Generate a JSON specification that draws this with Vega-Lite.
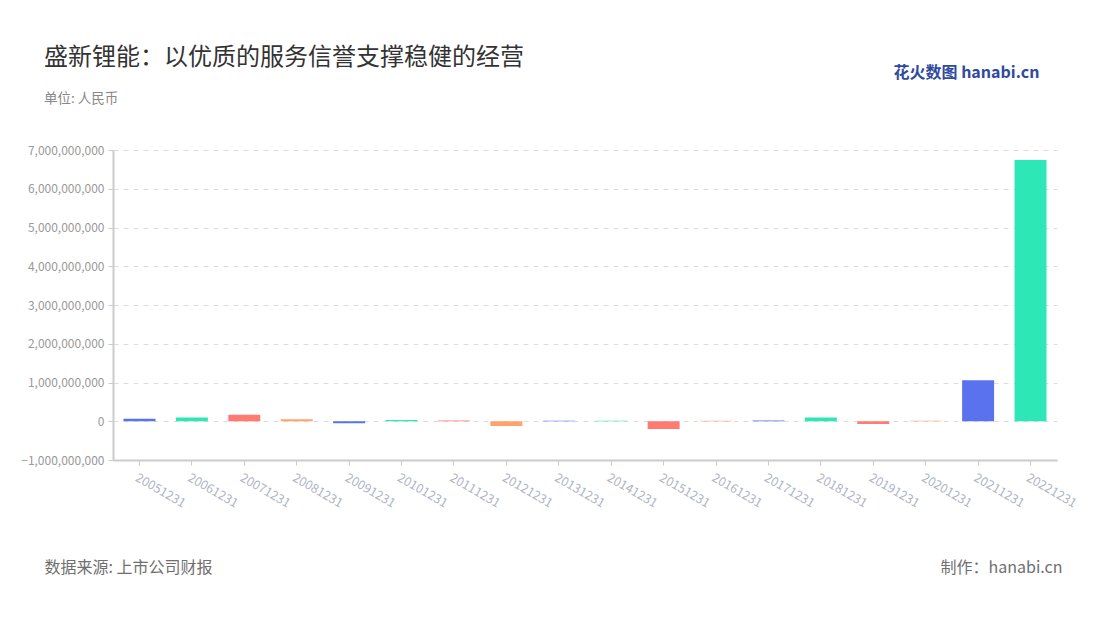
{
  "$schema": "https://vega.github.io/schema/vega-lite/v6.json",
  "autosize": "none",
  "width": 944,
  "height": 310,
  "padding": {"left": 113, "top": 150, "right": 43, "bottom": 160},
  "background": "white",
  "config": {
    "font": "Noto Sans CJK SC",
    "view": {"stroke": null}
  },
  "title": {
    "text": "盛新锂能：以优质的服务信誉支撑稳健的经营",
    "subtitle": "单位: 人民币",
    "anchor": "start",
    "frame": "group",
    "dx": -69,
    "offset": -41,
    "fontSize": 24,
    "fontWeight": "normal",
    "color": "#333333",
    "subtitleFontSize": 13.5,
    "subtitleColor": "#888888",
    "subtitlePadding": 22
  },
  "data": {
    "values": [
      {"date": "20051231", "value": 65000000},
      {"date": "20061231", "value": 100000000},
      {"date": "20071231", "value": 170000000},
      {"date": "20081231", "value": 50000000},
      {"date": "20091231", "value": -50000000},
      {"date": "20101231", "value": 30000000},
      {"date": "20111231", "value": 20000000},
      {"date": "20121231", "value": -120000000},
      {"date": "20131231", "value": 10000000},
      {"date": "20141231", "value": 10000000},
      {"date": "20151231", "value": -200000000},
      {"date": "20161231", "value": 15000000},
      {"date": "20171231", "value": 20000000},
      {"date": "20181231", "value": 100000000},
      {"date": "20191231", "value": -70000000},
      {"date": "20201231", "value": 15000000},
      {"date": "20211231", "value": 1060000000},
      {"date": "20221231", "value": 6740000000}
    ]
  },
  "layer": [
    {
      "mark": {"type": "bar"},
      "encoding": {
        "x": {
          "field": "date",
          "type": "nominal",
          "sort": null,
          "scale": {"paddingInner": 0.39, "paddingOuter": 0.2},
          "axis": {
            "title": "数据来源: 上市公司财报",
            "titleAnchor": "start",
            "titleAlign": "left",
            "titleX": -69,
            "titleY": 107,
            "titleBaseline": "middle",
            "titleFontSize": 16,
            "titleFontWeight": "normal",
            "titleColor": "#6f6f6f",
            "labelAngle": 30,
            "labelAlign": "left",
            "labelBaseline": "top",
            "labelColor": "#b0b4c4",
            "labelFontSize": 12.5,
            "labelPadding": 6,
            "domainColor": "#cccccc",
            "domainWidth": 2,
            "tickColor": "#cccccc",
            "tickSize": 5
          }
        },
        "y": {
          "field": "value",
          "type": "quantitative",
          "scale": {"domain": [-1000000000, 7000000000], "nice": false},
          "axis": {
            "values": [-1000000000, 0, 1000000000, 2000000000, 3000000000, 4000000000, 5000000000, 6000000000, 7000000000],
            "format": ",d",
            "title": "制作：hanabi.cn",
            "titleAngle": 0,
            "titleAlign": "right",
            "titleBaseline": "middle",
            "titleX": 949,
            "titleY": 417,
            "titleFontSize": 16,
            "titleFontWeight": "normal",
            "titleColor": "#6f6f6f",
            "labelColor": "#999999",
            "labelFontSize": 12,
            "labelPadding": 4,
            "domainColor": "#cccccc",
            "domainWidth": 2,
            "tickColor": "#cccccc",
            "tickSize": 5,
            "grid": true,
            "gridColor": "#dddddd",
            "gridDash": [5, 5]
          }
        },
        "color": {
          "field": "date",
          "type": "nominal",
          "sort": null,
          "legend": null,
          "scale": {
            "range": ["#5A72EE", "#2DE8B6", "#FF7B72", "#FFA26F", "#5A72EE", "#2DE8B6", "#FF7B72", "#FFA26F", "#5A72EE", "#2DE8B6", "#FF7B72", "#FFA26F", "#5A72EE", "#2DE8B6", "#FF7B72", "#FFA26F", "#5A72EE", "#2DE8B6"]
          }
        }
      }
    },
    {
      "mark": {"type": "bar", "opacity": 0},
      "encoding": {
        "x": {"field": "date", "type": "nominal", "sort": null},
        "y": {
          "field": "value",
          "type": "quantitative",
          "axis": {
            "orient": "right",
            "labels": false,
            "ticks": false,
            "domain": false,
            "grid": false,
            "title": "花火数图 hanabi.cn",
            "titleAngle": 0,
            "titleAlign": "left",
            "titleBaseline": "middle",
            "titleX": -164,
            "titleY": -78,
            "titleFontSize": 16,
            "titleFontWeight": "bold",
            "titleColor": "#2f4aa0"
          }
        }
      }
    }
  ],
  "resolve": {"axis": {"y": "independent"}}
}
